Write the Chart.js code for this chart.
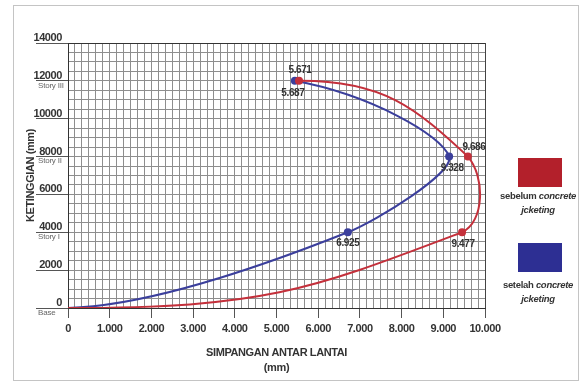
<!DOCTYPE html>
<html>
<head>
<meta charset="utf-8">
<script src="https://cdn.jsdelivr.net/npm/chart.js@4.4.0/dist/chart.umd.min.js"></script>
<style>
  body { margin: 0; background: #fff; }
  #wrap { position: relative; width: 584px; height: 381px; }
  #frame { position: absolute; left: 13px; top: 5px; width: 564px; height: 374px; border: 1px solid #c4c4c4; }
  canvas { position: absolute; left: 0; top: 0; }
  .key { position: absolute; left: 518px; width: 44px; height: 29px; }
  .ktext { position: absolute; left: 488px; width: 100px; text-align: center; color: #333;
           font: bold 9.5px 'Liberation Sans', Arial, sans-serif; letter-spacing: -0.3px; line-height: 14px; }
</style>
</head>
<body>
<div id="wrap">
  <div id="frame"></div>
  <canvas id="chart" width="584" height="381"></canvas>
  <div class="key" style="top:158px;background:#b3202b"></div>
  <div class="ktext" style="top:189px">sebelum <i>concrete</i><br><i>jcketing</i></div>
  <div class="key" style="top:243px;background:#2d2f93"></div>
  <div class="ktext" style="top:278px">setelah <i>concrete</i><br><i>jcketing</i></div>
</div>
<script>
// heights of each level (mm) and the drift
const heights = [0, 4000, 8000, 12000];
const storyNames = ['Base', 'Story I', 'Story II', 'Story III'];
const sebelumDrift = [0, 9.45, 9.59, 5.54];
const setelahDrift = [0, 6.71, 9.14, 5.44];
// value labels as printed next to the points
const sebelumText = ['', '9.477', '9.686', '5.671'];
const setelahText = ['', '6.925', '9.328', '5.687'];

const fam = "'Liberation Sans', Arial, sans-serif";
const red = '#c4303b';
const blue = '#3b3f9c';

const toPoints = (xs) => xs.map((x, i) => ({ x: x, y: heights[i] }));
const isWhole = (v, step) => Math.abs(v / step - Math.round(v / step)) < 1e-6;

// label offsets (dx, dy) from each point
const labelPos = {
  0: [null, [1, 12], [6, -9], [1, -11]],
  1: [null, [0, 11], [3, 12], [-2, 12]]
};

// ends of the smoothed line: tangent of the parabola through the first / last three points
function endHandle(a, b, c, area, scale) {
  const h1 = Math.hypot(b.x - a.x, b.y - a.y);
  const h2 = Math.hypot(c.x - b.x, c.y - b.y);
  const d1x = (b.x - a.x) / h1, d1y = (b.y - a.y) / h1;
  const d2x = (c.x - b.x) / h2, d2y = (c.y - b.y) / h2;
  const k = h1 / (h1 + h2);
  const s = h1 / 3 * scale;
  const x = a.x + (d1x + (d1x - d2x) * k) * s;
  const y = a.y + (d1y + (d1y - d2y) * k) * s;
  return {
    x: Math.min(Math.max(x, area.left), area.right),
    y: Math.min(Math.max(y, area.top), area.bottom)
  };
}

const smoothEnds = {
  id: 'smoothEnds',
  beforeDatasetsDraw(chart) {
    const area = chart.chartArea;
    chart.data.datasets.forEach((ds, d) => {
      const meta = chart.getDatasetMeta(d);
      const pts = meta.data;
      meta.dataset.updateControlPoints(area, 'x');
      const n = pts.length;
      const s = endHandle(pts[0], pts[1], pts[2], area, 0.85);
      pts[0].cp2x = s.x; pts[0].cp2y = s.y;
      const e = endHandle(pts[n - 1], pts[n - 2], pts[n - 3], area, ds.endScale);
      pts[n - 1].cp1x = e.x; pts[n - 1].cp1y = e.y;
    });
  }
};

const pointLabels = {
  id: 'pointLabels',
  afterDatasetsDraw(chart) {
    const ctx = chart.ctx;
    const texts = [sebelumText, setelahText];
    ctx.save();
    ctx.font = 'bold 10px ' + fam;
    ctx.letterSpacing = '-0.4px';
    ctx.fillStyle = '#333';
    ctx.textAlign = 'center';
    ctx.textBaseline = 'middle';
    chart.data.datasets.forEach((ds, d) => {
      chart.getDatasetMeta(d).data.forEach((pt, i) => {
        if (!texts[d][i]) return;
        const off = labelPos[d][i];
        ctx.fillText(texts[d][i], pt.x + off[0], pt.y + off[1]);
      });
    });
    ctx.restore();
  }
};

const storyLabels = {
  id: 'storyLabels',
  afterDraw(chart) {
    const ctx = chart.ctx;
    const y = chart.scales.y;
    ctx.save();
    ctx.font = '8px ' + fam;
    ctx.letterSpacing = '-0.2px';
    ctx.fillStyle = '#666';
    ctx.textAlign = 'left';
    ctx.textBaseline = 'middle';
    heights.forEach((h, i) => {
      ctx.fillText(storyNames[i], 38, y.getPixelForValue(h) + 4.5);
    });
    ctx.restore();
  }
};

const tighten = {
  id: 'tighten',
  beforeDraw(chart) { chart.ctx.letterSpacing = '-0.4px'; }
};

new Chart(document.getElementById('chart'), {
  type: 'scatter',
  data: {
    datasets: [{
      label: 'sebelum concrete jcketing',
      data: toPoints(sebelumDrift),
      showLine: true,
      tension: 0.45,
      endScale: 0.85,
      borderColor: red,
      borderWidth: 2,
      backgroundColor: red,
      pointRadius: [0, 4, 4, 4],
      pointBorderWidth: 0
    }, {
      label: 'setelah concrete jcketing',
      data: toPoints(setelahDrift),
      showLine: true,
      tension: 0.25,
      endScale: 0.7,
      borderColor: blue,
      borderWidth: 2,
      backgroundColor: blue,
      pointRadius: [0, 4, 4, 4],
      pointBorderWidth: 0
    }]
  },
  options: {
    responsive: false,
    animation: false,
    devicePixelRatio: 1,
    layout: { padding: { left: 0, top: 43, right: 99, bottom: 0 } },
    plugins: {
      legend: { display: false },
      tooltip: { enabled: false }
    },
    scales: {
      x: {
        type: 'linear',
        min: 0,
        max: 10,
        afterBuildTicks: (s) => { s.ticks = Array.from({ length: 61 }, (_, i) => ({ value: i / 6 })); },
        afterFit: (s) => { s.height = 73; },
        ticks: {
          autoSkip: false,
          maxRotation: 0,
          padding: 4,
          color: '#333',
          font: { family: fam, size: 11, weight: 'bold' },
          callback: (v) => isWhole(v, 1) ? (Math.round(v) === 0 ? '0' : Math.round(v) + '.000') : ''
        },
        grid: {
          color: (c) => (c.tick && Math.abs(c.tick.value - 10) < 1e-6) ? '#444' : '#8e8e8e',
          lineWidth: 1,
          tickLength: 10,
          tickColor: (c) => (c.tick && isWhole(c.tick.value, 1)) ? '#555' : 'rgba(0,0,0,0)'
        },
        border: { color: '#333', width: 1 },
        title: {
          display: true,
          text: ['SIMPANGAN ANTAR LANTAI', '(mm)'],
          color: '#333',
          font: { family: fam, size: 11, weight: 'bold', lineHeight: 1.35 },
          padding: { top: 14, bottom: 6 }
        }
      },
      y: {
        type: 'linear',
        min: 0,
        max: 14000,
        afterBuildTicks: (s) => { s.ticks = Array.from({ length: 29 }, (_, i) => ({ value: i * 500 })); },
        afterFit: (s) => { s.width = 68; },
        ticks: {
          autoSkip: false,
          padding: -26,
          labelOffset: -5,
          color: '#333',
          font: { family: fam, size: 11, weight: 'bold' },
          callback: (v) => isWhole(v, 2000) ? String(v) : ''
        },
        grid: {
          color: (c) => (c.tick && c.tick.value === 14000) ? '#333' : '#8e8e8e',
          lineWidth: 1,
          tickLength: 32,
          tickColor: (c) => (c.tick && isWhole(c.tick.value, 2000)) ? '#555' : 'rgba(0,0,0,0)'
        },
        border: { color: '#333', width: 1 },
        title: {
          display: true,
          text: 'KETINGGIAN (mm)',
          color: '#333',
          font: { family: fam, size: 11, weight: 'bold' },
          padding: { top: 24, bottom: 0 }
        }
      }
    }
  },
  plugins: [tighten, smoothEnds, pointLabels, storyLabels]
});
</script>
</body>
</html>
